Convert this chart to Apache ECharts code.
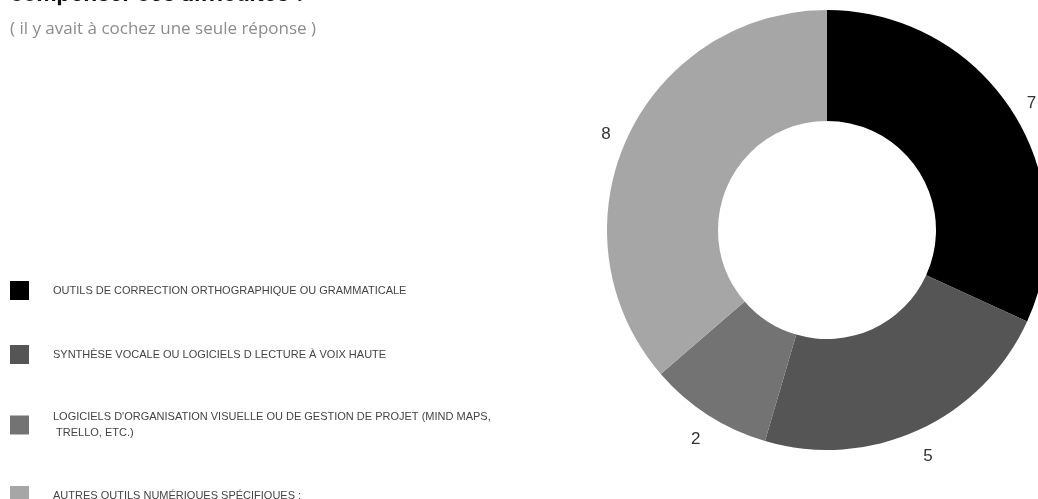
<!DOCTYPE html>
<html>
<head>
<meta charset="utf-8">
<style>
  html, body { margin: 0; padding: 0; background: #ffffff; }
  #chart { width: 1038px; height: 499px; }
</style>
<script src="https://cdn.jsdelivr.net/npm/echarts@6/dist/echarts.min.js"></script>
</head>
<body>
<div id="chart"></div>
<script>
// Answers and their counts
const categories = [
  "OUTILS DE CORRECTION ORTHOGRAPHIQUE OU GRAMMATICALE",
  "SYNTHÈSE VOCALE OU LOGICIELS D LECTURE À VOIX HAUTE",
  "LOGICIELS D'ORGANISATION VISUELLE OU DE GESTION DE PROJET (MIND MAPS, TRELLO, ETC.)",
  "AUTRES OUTILS NUMÉRIQUES SPÉCIFIQUES :"
];
const counts = [7, 5, 2, 8];
const sliceColors = ["#000000", "#555555", "#737373", "#a6a6a6"];

const titleText = "compenser ces difficultés ?";
const subtitleText = "( il y avait à cochez une seule réponse )";

const chart = echarts.init(document.getElementById("chart"), null, { renderer: "canvas" });

chart.setOption({
  animation: false,
  title: [
    {
      text: titleText,
      left: 10,
      top: -17,
      padding: 0,
      textStyle: { fontFamily: "Inter", fontWeight: "bold", fontSize: 22, color: "#111111" }
    },
    {
      text: subtitleText,
      left: 10,
      top: 21,
      padding: 0,
      textStyle: { fontFamily: "Open Sans", fontWeight: "normal", fontSize: 17, color: "#8c8c8c" }
    }
  ],
  legend: {
    orient: "vertical",
    left: 10,
    top: 281,
    height: 400,
    padding: 0,
    itemGap: 45,
    itemWidth: 19,
    itemHeight: 19,
    icon: "rect",
    selectedMode: false,
    data: categories,
    textStyle: {
      fontFamily: "Liberation Sans",
      fontSize: 11,
      color: "#444444",
      lineHeight: 16,
      width: 440,
      overflow: "break",
      padding: [0, 0, 0, 19]
    }
  },
  series: [
    {
      type: "pie",
      center: [827, 230],
      radius: [109, 220],
      startAngle: 90,
      clockwise: true,
      silent: true,
      label: { show: false },
      labelLine: { show: false },
      itemStyle: { borderWidth: 0 },
      data: categories.map((name, i) => ({
        name: name,
        value: counts[i],
        itemStyle: { color: sliceColors[i] }
      }))
    },
    {
      // value labels floating just outside the ring
      type: "pie",
      center: [827, 230],
      radius: [230, 250],
      startAngle: 90,
      clockwise: true,
      silent: true,
      itemStyle: { color: "transparent" },
      label: {
        show: true,
        position: "inside",
        formatter: "{c}",
        fontFamily: "Liberation Sans",
        fontSize: 17,
        color: "#333333",
        offset: [0, 5]
      },
      labelLine: { show: false },
      data: counts.slice()
    }
  ]
});
</script>
</body>
</html>
